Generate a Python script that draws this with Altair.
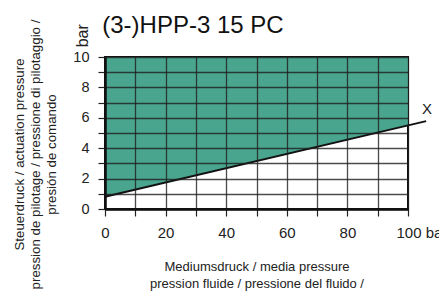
import altair as alt
import pandas as pd

# data
area_x = [0, 100]
area_y = [0.8, 5.5]
area_top = [10, 10]
line_x = [0, 106]
line_y = [0.8, 5.78]
x_ticks = [0, 10, 20, 30, 40, 50, 60, 70, 80, 90, 100]
y_ticks = [0, 1, 2, 3, 4, 5, 6, 7, 8, 9, 10]

FONT = "Liberation Sans"
GREEN = "#4AA58F"

area_df = pd.DataFrame({"x": area_x, "y": area_y, "y2": area_top})
line_df = pd.DataFrame({"x": line_x, "y": line_y})

xscale = alt.Scale(domain=[0, 100], nice=False, zero=False)
yscale = alt.Scale(domain=[0, 10], nice=False, zero=False)

xaxis = alt.Axis(
    values=x_ticks, tickCount=50, format="d",
    labelExpr="datum.value == 100 ? '100 bar' : (datum.value % 20 == 0 ? datum.label : '')",
    labelAlign={"condition": {"test": "datum.value == 100", "value": "left"}, "value": "center"},
    labelOffset={"condition": {"test": "datum.value == 100", "value": -12}, "value": 0},
    labelOverlap=False, labelFlush=False,
    labelFont=FONT, labelFontSize=15, labelColor="#222", labelPadding=9,
    tickSize=7, tickColor="#222", tickWidth=1.2,
    domainColor="#111", domainWidth=2.5,
    grid=True, gridColor="#1e1e1e", gridOpacity=0.8, gridWidth=1.3,
    title=["Mediumsdruck / media pressure", "pression fluide / pressione del fluido /", "presión del medio"],
    titleFont=FONT, titleFontSize=13, titleFontWeight="normal", titleColor="#222",
    titleLineHeight=17, titleBaseline="top", titleAlign="center",
    titleX=151.5, titleY=51,
    zindex=1,
)
yaxis = alt.Axis(
    values=y_ticks, tickCount=50, format="d",
    labelExpr="datum.value % 2 == 0 ? datum.label : ''",
    labelOverlap=False, labelFlush=False,
    labelFont=FONT, labelFontSize=14.5, labelColor="#222", labelPadding=9,
    tickSize=7, tickColor="#222", tickWidth=1.2,
    domainColor="#111", domainWidth=2.5,
    grid=True, gridColor="#1e1e1e", gridOpacity=0.8, gridWidth=1.3,
    title=["Steuerdruck / actuation pressure", "pression de pilotage / pressione di pilotaggio /", "presión de comando"],
    titleFont=FONT, titleFontSize=13.3, titleFontWeight="normal", titleColor="#222",
    titleLineHeight=16, titleBaseline="top", titleAlign="center", titleAngle=270,
    titleX=-93, titleY=97,
    zindex=1,
)

area = alt.Chart(area_df).mark_area(color=GREEN, opacity=1).encode(
    x=alt.X("x:Q", scale=xscale, axis=xaxis),
    y=alt.Y("y:Q", scale=yscale, axis=yaxis),
    y2="y2:Q",
)

line = alt.Chart(line_df).mark_line(color="#111", strokeWidth=2).encode(
    x=alt.X("x:Q", scale=xscale, axis=xaxis),
    y=alt.Y("y:Q", scale=yscale, axis=yaxis),
)

bar_unit = alt.Chart().mark_text(
    text="bar", angle=270, font=FONT, fontSize=16, color="#222", align="center", baseline="middle"
).encode(x=alt.datum(-7.3), y=alt.datum(11.4))

x_label = alt.Chart().mark_text(
    text="X", font=FONT, fontSize=15, color="#222", align="center", baseline="middle"
).encode(x=alt.datum(106.3), y=alt.datum(6.6))

title_text = alt.Chart().mark_text(
    text="(3-)HPP-3 15 PC", font=FONT, fontSize=24, color="#111", align="left", baseline="alphabetic"
).encode(x=alt.datum(-0.9), y=alt.datum(11.55))

chart = alt.layer(area, line, bar_unit, x_label, title_text).properties(
    width=303,
    height=152,
    autosize=alt.AutoSizeParams(type="none"),
    padding={"left": 97, "top": 49, "right": 31, "bottom": 82},
).configure_view(stroke="#111", strokeWidth=2)

chart.save("out.html", embed_options={"renderer": "svg", "actions": False})
